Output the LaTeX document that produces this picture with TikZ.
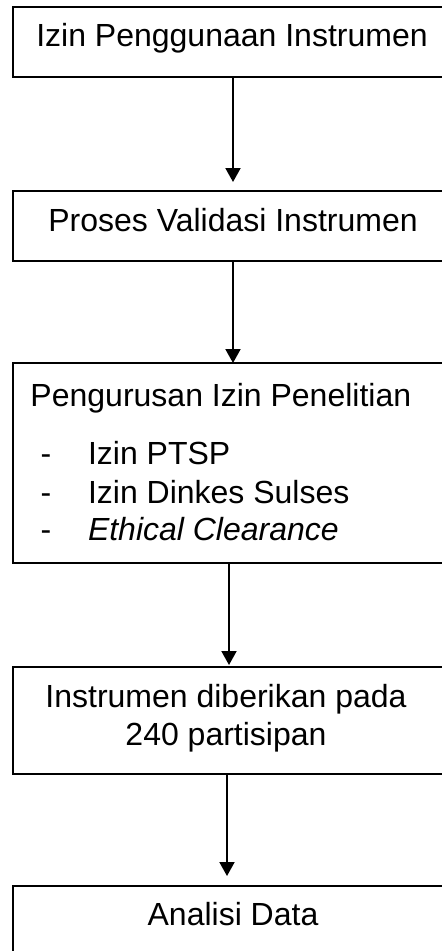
\documentclass[tikz,border=0pt]{standalone}
\usepackage{fontspec}
\setmainfont{Liberation Sans}
\usetikzlibrary{arrows.meta,calc}
\begin{document}
\begin{tikzpicture}[x=1pt,y=1pt,
  box/.style={draw=black,line width=1.2pt,inner sep=0pt,outer sep=0pt,minimum width=442pt},
  txt/.style={inner sep=0pt,outer sep=0pt,font=\fontsize{32}{38}\selectfont},
  arr/.style={line width=2pt,-{Triangle[width=15pt,length=14pt]}}]
\useasboundingbox (0,0) rectangle (442,-951);
\clip (0,0) rectangle (442,-951);
\fill[white] (0,0) rectangle (442,-951);
% boxes (left edge x=13, extending beyond right margin)
\node[box,minimum height=70pt]  (b1) at (234,-42) {};
\node[box,minimum height=70pt]  (b2) at (234,-226) {};
\node[box,minimum height=200pt] (b3) at (234,-463) {};
\node[box,minimum height=107pt] (b4) at (234,-720.5) {};
\node[box,minimum height=140pt,line width=2pt] (b5) at (234,-956) {};
% texts
\node[txt,anchor=base] (t1) at (232,-46) {Izin Penggunaan Instrumen};
\node[txt,anchor=base] (t2) at (233,-231) {Proses Validasi Instrumen};
\node[txt,anchor=base west] (t3) at (30.5,-406) {Pengurusan Izin Penelitian};
\node[txt,anchor=base west] (d1) at (40.5,-464) {-};
\node[txt,anchor=base west] (d2) at (40.5,-503) {-};
\node[txt,anchor=base west] (d3) at (40.5,-540) {-};
\node[txt,anchor=base west] (l1) at (88,-464) {Izin PTSP};
\node[txt,anchor=base west] (l2) at (88,-503) {Izin Dinkes Sulses};
\node[txt,anchor=base west] (l3) at (88,-540) {\itshape Ethical Clearance};
\node[txt,anchor=base] (t4a) at (226,-707) {Instrumen diberikan pada};
\node[txt,anchor=base] (t4b) at (226,-745) {240 partisipan};
\node[txt,anchor=base] (t5) at (233,-925) {Analisi Data};
% connectors
\draw[arr] ($(b1.south west)+(220,0)$) -- ($(b2.north west)+(220,9)$);
\draw[arr] ($(b2.south west)+(220,0)$) -- ($(b3.north west)+(220,0)$);
\draw[arr] ($(b3.south west)+(216,0)$) -- ($(b4.north west)+(216,2)$);
\draw[arr] ($(b4.south west)+(214,0)$) -- ($(b5.north west)+(214,10)$);
\end{tikzpicture}
\end{document}
